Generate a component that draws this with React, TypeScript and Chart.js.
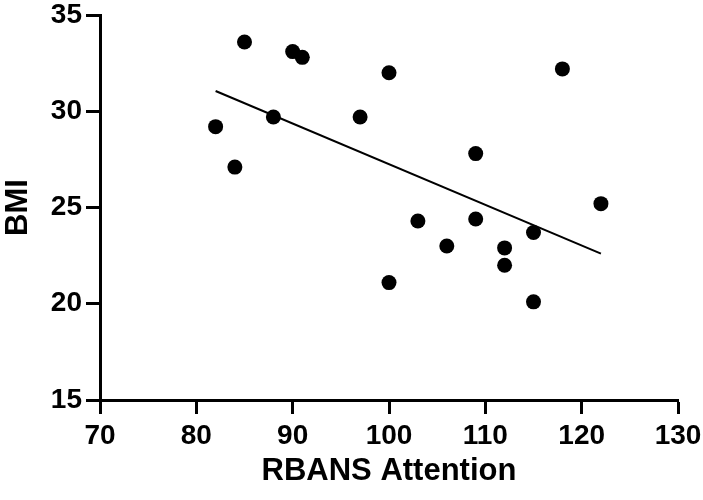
import React, { useEffect, useRef } from "react";
import { Chart, registerables } from "chart.js";

Chart.register(...registerables);

const attention = [82, 84, 85, 88, 90, 91, 97, 100, 100, 103, 106, 109, 109, 112, 112, 115, 115, 118, 122];
const bmi = [29.2, 27.1, 33.6, 29.7, 33.1, 32.8, 29.7, 32.0, 21.1, 24.3, 23.0, 27.8, 24.4, 22.9, 22.0, 23.7, 20.1, 32.2, 25.2];
const fitX = [82, 122];
const fitY = [31.05, 22.6];
const xTicks = [70, 80, 90, 100, 110, 120, 130];
const yTicks = [15, 20, 25, 30, 35];
const xTitle = "RBANS Attention";
const yTitle = "BMI";

const FONT = "'Liberation Sans', Arial, Helvetica, sans-serif";

export default function App() {
  const ref = useRef<HTMLCanvasElement | null>(null);

  useEffect(() => {
    if (!ref.current) return;
    const chart = new Chart(ref.current, {
      type: "scatter",
      data: {
        datasets: [
          {
            type: "scatter",
            data: attention.map((x, i) => ({ x, y: bmi[i] })),
            backgroundColor: "#000",
            borderWidth: 0,
            pointRadius: 7.5,
            pointHoverRadius: 7.5,
          },
          {
            type: "line",
            data: fitX.map((x, i) => ({ x, y: fitY[i] })),
            borderColor: "#000",
            borderWidth: 2,
            pointRadius: 0,
            fill: false,
          } as any,
        ],
      },
      options: {
        animation: false,
        responsive: true,
        maintainAspectRatio: false,
        layout: { padding: { top: 15, right: 25, left: 0, bottom: 0 } },
        plugins: { legend: { display: false }, tooltip: { enabled: false } },
        scales: {
          x: {
            type: "linear",
            min: 70,
            max: 130,
            afterBuildTicks: (s: any) => {
              s.ticks = xTicks.map((v) => ({ value: v }));
            },
            afterFit: (s: any) => {
              s.height = 100;
              s.paddingLeft = 0;
              s.paddingRight = 0;
            },
            ticks: {
              color: "#000",
              padding: 5,
              font: { family: FONT, size: 28, weight: "bold" },
            },
            grid: {
              drawOnChartArea: false,
              drawTicks: true,
              tickLength: 14,
              tickWidth: 3,
              tickColor: "#000",
            },
            border: { display: true, color: "#000", width: 3 },
            title: {
              display: true,
              text: xTitle,
              color: "#000",
              font: { family: FONT, size: 31, weight: "bold" },
              padding: { top: 4, bottom: 10 },
            },
          },
          y: {
            type: "linear",
            min: 15,
            max: 35,
            afterBuildTicks: (s: any) => {
              s.ticks = yTicks.map((v) => ({ value: v }));
            },
            afterFit: (s: any) => {
              s.width = 100;
              s.paddingTop = 0;
              s.paddingBottom = 0;
            },
            ticks: {
              color: "#000",
              padding: 4,
              font: { family: FONT, size: 28, weight: "bold" },
            },
            grid: {
              drawOnChartArea: false,
              drawTicks: true,
              tickLength: 14,
              tickWidth: 3,
              tickColor: "#000",
            },
            border: { display: true, color: "#000", width: 3 },
            title: {
              display: true,
              text: yTitle,
              color: "#000",
              font: { family: FONT, size: 31, weight: "bold" },
              padding: { top: 0, bottom: 0 },
            },
          },
        },
      },
    });
    return () => chart.destroy();
  }, []);

  return (
    <div style={{ position: "absolute", left: 0, top: 0, width: 703, height: 500, background: "#fff" }}>
      <canvas ref={ref} />
    </div>
  );
}
